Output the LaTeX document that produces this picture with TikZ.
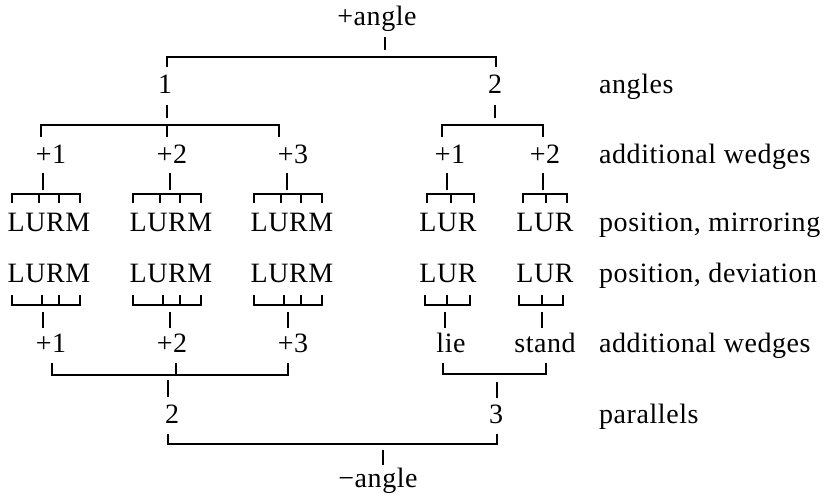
\documentclass[tikz,border=0pt]{standalone}
\usepackage{fontspec}
\setmainfont{Liberation Serif}[LetterSpace=2]
\begin{document}
\begin{tikzpicture}[x=1pt,y=-1pt,
  lbl/.style={anchor=base,inner sep=0pt,font=\fontsize{28}{34}\selectfont},
  side/.style={anchor=base west,inner sep=0pt,font=\fontsize{28}{34}\selectfont},
  ln/.style={line width=1.7pt}]
\useasboundingbox (0,0) rectangle (829,496);
% ---- text nodes ----
\node[lbl] (top) at (377,25) {+angle};
\node[lbl] (a1) at (165,93) {1};
\node[lbl] (a2) at (495,93) {2};
\node[side] (Langles) at (599,93) {angles};
\node[lbl] (w1) at (51,163) {+1};
\node[lbl] (w2) at (172,163) {+2};
\node[lbl] (w3) at (293,163) {+3};
\node[lbl] (w4) at (450,163) {+1};
\node[lbl] (w5) at (545,163) {+2};
\node[side] (Lwedges) at (599,163) {additional wedges};
\node[lbl] (m1) at (49,231) {LURM};
\node[lbl] (m2) at (171,231) {LURM};
\node[lbl] (m3) at (292,231) {LURM};
\node[lbl] (m4) at (448,231) {LUR};
\node[lbl] (m5) at (545,231) {LUR};
\node[side] (Lmirror) at (599,231) {position, mirroring};
\node[lbl] (d1) at (49,282) {LURM};
\node[lbl] (d2) at (171,282) {LURM};
\node[lbl] (d3) at (292,282) {LURM};
\node[lbl] (d4) at (448,282) {LUR};
\node[lbl] (d5) at (545,282) {LUR};
\node[side] (Ldev) at (599,282) {position, deviation};
\node[lbl] (b1) at (51,352) {+1};
\node[lbl] (b2) at (172,352) {+2};
\node[lbl] (b3) at (293,352) {+3};
\node[lbl] (b4) at (451,352) {lie};
\node[lbl] (b5) at (545,352) {stand};
\node[side] (Lwedges2) at (599,352) {additional wedges};
\node[lbl] (p1) at (172,423) {2};
\node[lbl] (p2) at (496,423) {3};
\node[side] (Lpar) at (599,423) {parallels};
\node[lbl] (bot) at (378,487) {−angle};
% ---- connectors ----
% +angle -> 1, 2
\draw[ln] (385,37) -- (385,50);
\draw[ln] (167,67) -- (167,57) -- (496,57) -- (496,67);
% 1 -> +1 +2 +3
\draw[ln] (167,105) -- (167,118);
\draw[ln] (41,137) -- (41,125) -- (279,125) -- (279,137);
\draw[ln] (167,125) -- (167,137);
% 2 -> +1 +2
\draw[ln] (495,105) -- (495,118);
\draw[ln] (442,137) -- (442,125) -- (543,125) -- (543,137);
% wedges -> LURM (top)
\foreach \x in {43,170,287,447,543} \draw[ln] (\x,173) -- (\x,190);
\foreach \o in {12,133,254}{
  \draw[ln] (\o,203) -- (\o,194) -- (\o+68,194) -- (\o+68,203);
  \draw[ln] (\o+27,194) -- (\o+27,203);
  \draw[ln] (\o+47,194) -- (\o+47,203);
}
\draw[ln] (427,203) -- (427,194) -- (474,194) -- (474,203);
\draw[ln] (451,194) -- (451,203);
\draw[ln] (523,203) -- (523,194) -- (567,194) -- (567,203);
\draw[ln] (546,194) -- (546,203);
% LURM (bottom) -> wedges
\foreach \o in {12,133,254}{
  \draw[ln] (\o,295) -- (\o,305) -- (\o+68,305) -- (\o+68,295);
  \draw[ln] (\o+30,295) -- (\o+30,305);
  \draw[ln] (\o+47,295) -- (\o+47,305);
}
\draw[ln] (425,295) -- (425,305) -- (470,305) -- (470,295);
\draw[ln] (447,295) -- (447,305);
\draw[ln] (519,295) -- (519,305) -- (563,305) -- (563,295);
\draw[ln] (542,295) -- (542,305);
\foreach \x in {43,170,288,445,542} \draw[ln] (\x,312) -- (\x,328);
% +1 +2 +3 -> 2
\draw[ln] (52,363) -- (52,375) -- (288,375) -- (288,363);
\draw[ln] (176,363) -- (176,375);
\draw[ln] (168,380) -- (168,397);
% lie stand -> 3
\draw[ln] (443,363) -- (443,374) -- (546,374) -- (546,363);
\draw[ln] (497,382) -- (497,398);
% 2 3 -> -angle
\draw[ln] (168,434) -- (168,444) -- (497,444) -- (497,434);
\draw[ln] (383,450) -- (383,465);
\end{tikzpicture}
\end{document}
